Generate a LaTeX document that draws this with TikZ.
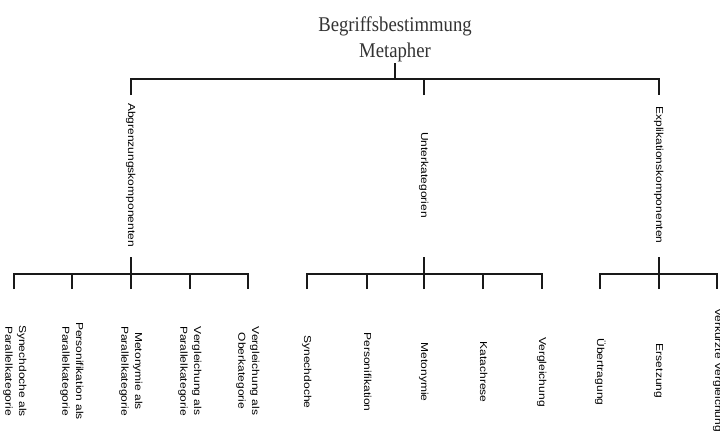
\documentclass[tikz,border=0pt]{standalone}
\usepackage{fontspec}
\setmainfont{Liberation Serif}
\newfontfamily\lsans{Liberation Sans}
\usepackage{graphicx}
\newcommand\rlab[1]{\scalebox{1}[0.84]{\begin{tabular}{@{}c@{}}#1\end{tabular}}}
\newcommand\hlab[1]{\scalebox{1}[1.12]{#1}}
\begin{document}
\begin{tikzpicture}[x=1pt,y=-1pt,
  line/.style={line width=1.1pt, black!90},
  stem/.style={line width=1.6pt, black!90},
  vlab/.style={rotate=-90, inner sep=0pt, font=\lsans\fontsize{12}{16.5}\selectfont, text=black},
  ttl/.style={inner sep=0pt, anchor=base, font=\fontsize{18.7}{22}\selectfont, text=black!80}]
\useasboundingbox (0,0) rectangle (720,432);
\clip (0,0) rectangle (720,432);

% titles
\node[ttl] (title) at (395,31) {\hlab{Begriffsbestimmung}};
\node[ttl] (meta) at (395,57.5) {\hlab{Metapher}};

% top bar
\coordinate (mt) at (395,63);
\coordinate (mb) at (395,79);
\coordinate (aT) at (131,95);
\coordinate (uT) at (424,95);
\coordinate (eT) at (659,95);
\draw[stem] (mt) -- (mb);
\draw[line] (aT) -- (aT |- mb) -- (eT |- mb) -- (eT);
\draw[line] (uT) -- (uT |- mb);

% level 2 labels
\node[vlab] (abg) at (131,175) {\rlab{Abgrenzungskomponenten}};
\node[vlab] (unt) at (424,175) {\rlab{Unterkategorien}};
\node[vlab] (exp) at (659,175) {\rlab{Explikationskomponenten}};

% group stems
\coordinate (aS) at (131,257); \coordinate (aJ) at (131,274);
\coordinate (uS) at (424,257); \coordinate (uJ) at (424,274);
\coordinate (eS) at (659,257); \coordinate (eJ) at (659,274);
\draw[stem] (aS) -- (aJ);
\draw[stem] (uS) -- (uJ);
\draw[stem] (eS) -- (eJ);

% child tick ends
\foreach \n/\x in {a1/14,a2/72,a3/131,a4/190,a5/248,
                   u1/307,u2/367,u3/424,u4/483,u5/542,
                   e1/600,e2/659,e3/717}{
  \coordinate (\n t) at (\x,289);
}
\draw[line] (a1t) -- (a1t |- aJ) -- (a5t |- aJ) -- (a5t);
\draw[line] (a2t) -- (a2t |- aJ);
\draw[line] (a3t) -- (a3t |- aJ);
\draw[line] (a4t) -- (a4t |- aJ);
\draw[line] (u1t) -- (u1t |- uJ) -- (u5t |- uJ) -- (u5t);
\draw[line] (u2t) -- (u2t |- uJ);
\draw[line] (u3t) -- (u3t |- uJ);
\draw[line] (u4t) -- (u4t |- uJ);
\draw[line] (e1t) -- (e1t |- eJ) -- (e3t |- eJ) -- (e3t);
\draw[line] (e2t) -- (e2t |- eJ);

% children
\node[vlab] (a1) at (15,371) {\rlab{Synechdoche als\\Parallelkategorie}};
\node[vlab] (a2) at (72,371) {\rlab{Personifikation als\\Parallelkategorie}};
\node[vlab] (a3) at (131,371) {\rlab{Metonymie als\\Parallelkategorie}};
\node[vlab] (a4) at (190,371) {\rlab{Vergleichung als\\Parallelkategorie}};
\node[vlab] (a5) at (248,371) {\rlab{Vergleichung als\\Oberkategorie}};

\node[vlab] (u1) at (307,372) {\rlab{Synechdoche}};
\node[vlab] (u2) at (367,372) {\rlab{Personifikation}};
\node[vlab] (u3) at (424,372) {\rlab{Metonymie}};
\node[vlab] (u4) at (483,372) {\rlab{Katachrese}};
\node[vlab] (u5) at (542,372) {\rlab{Vergleichung}};

\node[vlab] (e1) at (600,372) {\rlab{Übertragung}};
\node[vlab] (e2) at (659,371) {\rlab{Ersetzung}};
\node[vlab] (e3) at (718,370) {\rlab{Verkürzte Vergleichung}};
\end{tikzpicture}
\end{document}
